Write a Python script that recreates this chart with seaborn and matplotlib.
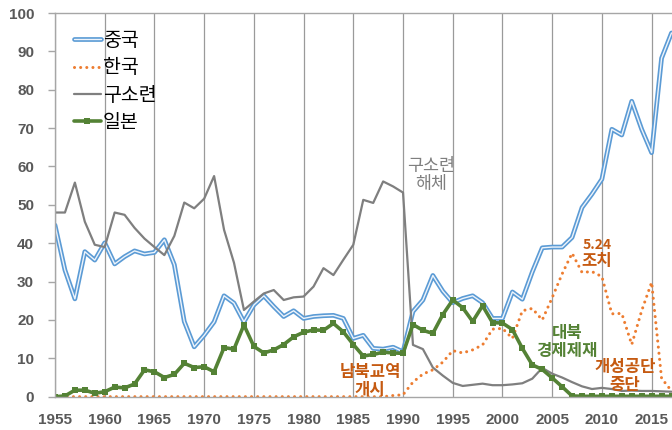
import matplotlib
matplotlib.use("Agg")
import matplotlib.pyplot as plt
import matplotlib.patheffects as pe
import seaborn as sns
import pandas as pd

years = list(range(1955, 2018))

china = [44.7, 33.0, 25.5, 37.8, 35.6, 40.1, 34.6, 36.5, 38.0, 37.2,
         37.6, 40.9, 34.4, 19.6, 13.0, 16.0, 19.5, 26.3, 24.4, 19.5,
         23.9, 26.3, 23.5, 20.9, 22.4, 20.4, 20.9, 21.1, 21.2, 20.4,
         15.2, 16.0, 12.6, 12.4, 12.9, 11.7, 22.2, 25.2, 31.6, 27.5,
         24.5, 25.6, 26.3, 24.5, 20.4, 20.4, 27.3, 25.4, 32.5, 38.8,
         39.0, 39.0, 41.5, 49.3, 52.8, 56.7, 69.7, 68.2, 77.0, 69.7,
         63.6, 88.2, 94.8]

korea = [0.0] * 34 + [0.3, 0.5, 3.8, 5.9, 7.0, 9.0, 12.0, 11.4, 12.2, 13.5,
                      17.6, 17.8, 15.2, 22.4, 23.0, 20.0, 25.8, 32.0, 37.4, 32.4,
                      32.6, 31.3, 21.6, 21.7, 13.6, 22.4, 29.8, 4.8, 1.5]

ussr = [48.0, 48.0, 55.8, 45.6, 39.6, 39.0, 48.0, 47.4, 44.0, 41.2,
        39.0, 36.9, 41.9, 50.6, 49.1, 51.6, 57.5, 43.5, 34.9, 22.6,
        24.8, 26.9, 27.8, 25.2, 25.9, 26.1, 28.7, 33.5, 31.7, 35.7,
        39.6, 51.3, 50.5, 56.1, 54.8, 53.2, 13.5, 12.4, 7.6, 5.5,
        3.6, 2.8, 3.1, 3.4, 3.0, 3.0, 3.2, 3.5, 4.7, 7.5,
        6.0, 5.0, 3.8, 2.7, 2.0, 2.3, 2.0, 1.5, 1.6, 1.5,
        1.5, 1.4, 1.3]

japan = [0.0, 0.2, 1.7, 1.7, 0.9, 1.3, 2.5, 2.3, 3.3, 7.0,
         6.5, 5.0, 5.8, 8.7, 7.6, 7.8, 6.5, 12.8, 12.4, 18.7,
         13.1, 11.4, 12.2, 13.6, 15.6, 16.8, 17.4, 17.3, 19.1, 16.9,
         13.6, 10.6, 11.0, 11.6, 11.4, 11.3, 18.8, 17.3, 16.5, 21.4,
         25.2, 23.2, 19.6, 23.7, 19.3, 19.2, 17.5, 12.6, 8.3, 7.1,
         4.9, 2.6, 0.2] + [0.1] * 10

df = pd.DataFrame({'year': years, '중국': china, '한국': korea,
                   '구소련': ussr, '일본': japan})

sns.set_theme(style="white")
plt.rcParams['font.family'] = ['Noto Sans CJK KR', 'DejaVu Sans']

fig = plt.figure(figsize=(6.72, 4.3), dpi=100)
ax = fig.add_axes([55 / 672, 1 - 396.7 / 430, 617 / 672, (396.7 - 13) / 430])

blue = '#5b9bd5'
orange = '#ed7d31'
grey = '#7f7f7f'
green = '#548235'

sns.lineplot(data=df, x='year', y='중국', ax=ax, color='#eef4fb', lw=1.0,
             label='중국',
             path_effects=[pe.Stroke(linewidth=3.4, foreground=blue), pe.Normal()])
sns.lineplot(data=df, x='year', y='한국', ax=ax, color=orange, lw=2.2,
             linestyle=(0, (0.01, 2.0)), dash_capstyle='round', label='한국')
sns.lineplot(data=df, x='year', y='구소련', ax=ax, color=grey, lw=1.6,
             label='구소련')
sns.lineplot(data=df, x='year', y='일본', ax=ax, color=green, lw=2.6,
             marker='s', markersize=4.5, markeredgewidth=0, label='일본')

ax.set_xlim(1955, 2017.05)
ax.set_ylim(0, 100)
ax.set_xticks(range(1955, 2016, 5))
ax.set_yticks(range(0, 101, 10))
ax.set_xlabel('')
ax.set_ylabel('')

ax.grid(axis='x', color='#9a9a9a', lw=0.9)
ax.grid(axis='y', visible=False)
for side in ['left', 'bottom', 'top']:
    ax.spines[side].set_color('#a6a6a6')
    ax.spines[side].set_linewidth(1.0)
ax.spines['right'].set_visible(False)

ax.tick_params(axis='y', length=5, width=1, color='#a6a6a6', pad=10, left=True)
ax.tick_params(axis='x', length=0, pad=12)
for lab in ax.get_xticklabels() + ax.get_yticklabels():
    lab.set_family(['Liberation Sans', 'DejaVu Sans'])
    lab.set_fontweight('bold')
    lab.set_fontsize(11)
    lab.set_color('#595959')

leg = ax.legend(loc='upper left', bbox_to_anchor=(0.03, 0.955), frameon=False,
                fontsize=14, handlelength=1.4, handletextpad=0.1,
                labelspacing=0.32, borderpad=0, borderaxespad=0)
for t in leg.get_texts():
    t.set_color('black')
    t.set_fontweight('medium')

ax.text(1992.8, 57.8, '구소련\n해체', color=grey, fontsize=12.5, ha='center',
        va='center', linespacing=1.0, fontweight='medium')
ax.text(1986.7, 4.1, '남북교역\n개시', color='#c55a11', fontsize=12,
        fontweight='bold', ha='center', va='center', linespacing=1.0)
ax.text(2009.5, 39.5, '5.24', color='#c55a11', fontsize=10,
        fontweight='bold', ha='center', va='center')
ax.text(2009.5, 35.4, '조치', color='#c55a11', fontsize=12,
        fontweight='bold', ha='center', va='center')
ax.text(2006.5, 14.3, '대북\n경제제재', color=green, fontsize=12,
        fontweight='bold', ha='center', va='center', linespacing=1.0)
ax.text(2012.3, 5.4, '개성공단\n중단', color='#c55a11', fontsize=12,
        fontweight='bold', ha='center', va='center', linespacing=1.0)

fig.savefig('out.png', dpi=100)
